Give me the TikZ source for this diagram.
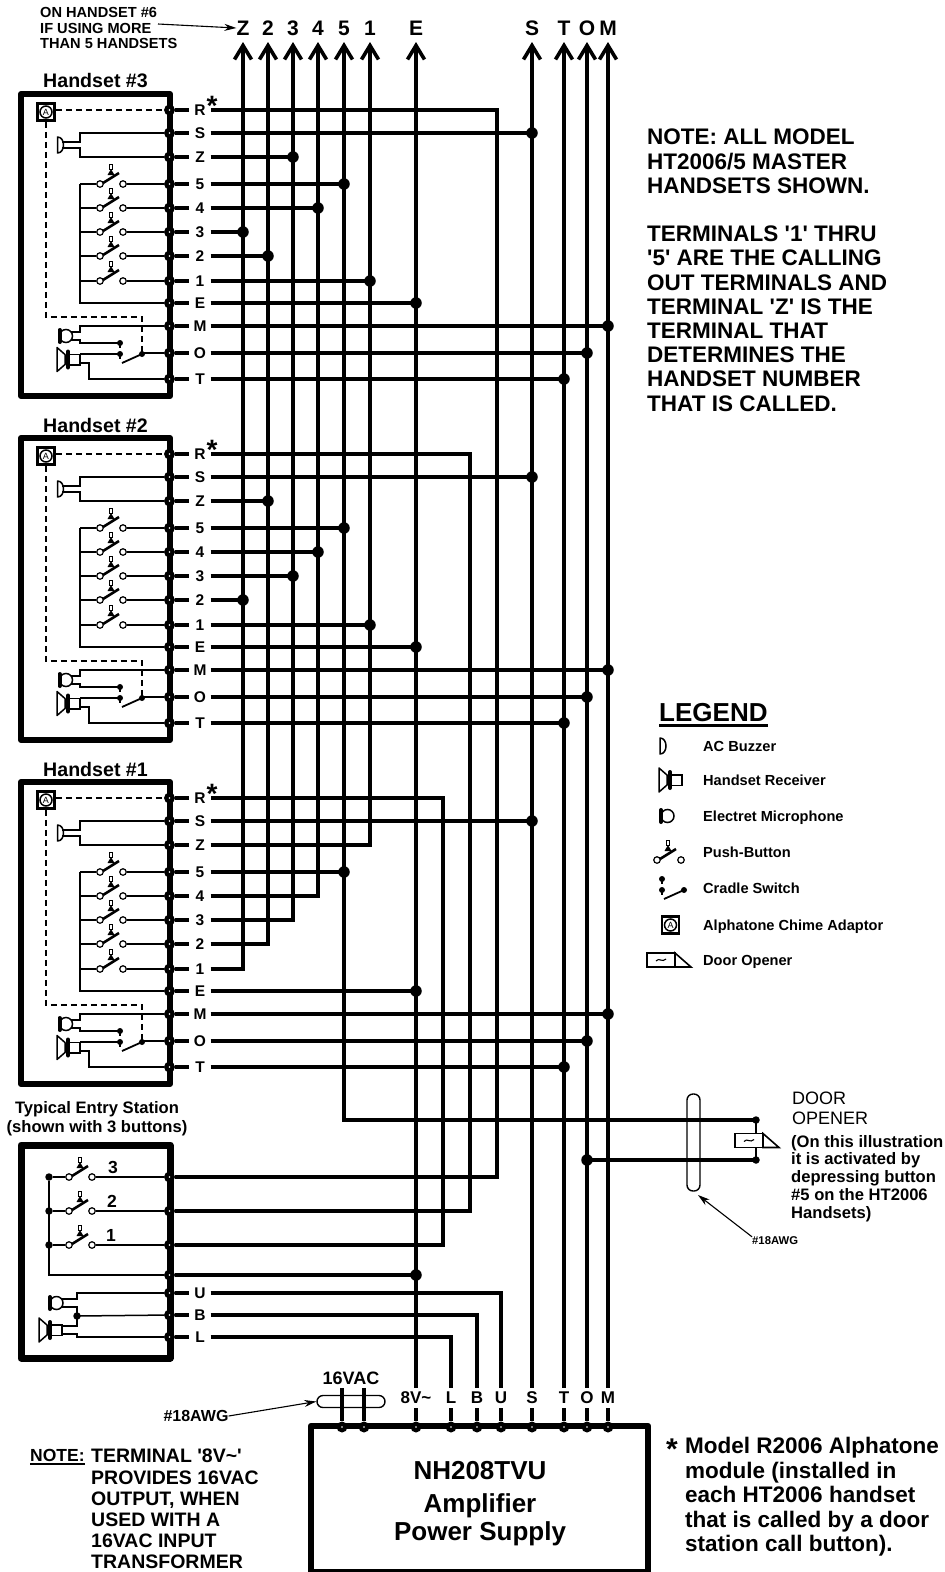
\documentclass[tikz,border=0pt]{standalone}
\usepackage{fontspec}
\setmainfont{Liberation Sans}
\usetikzlibrary{arrows.meta}

\newcommand{\boldat}[2]{\fontsize{#1}{#2}\selectfont\bfseries}

\tikzstyle{wire} = [draw, line width=3.6pt, -]
\tikzstyle{bus} = [draw, line width=3.6pt, -{Straight Barb[length=14pt,width=17pt]}]
\tikzstyle{thinwire} = [draw, line width=1.5pt, -]
\tikzstyle{chimewire} = [draw, line width=1.7pt, dash pattern=on 6pt off 4pt]
\tikzstyle{casing} = [draw, line width=6pt, line join=round]
\tikzstyle{joint} = [circle,fill=black,minimum size=11.5pt,inner sep=0pt]
\tikzstyle{smalljoint} = [circle,fill=black,minimum size=7.5pt,inner sep=0pt]
\tikzstyle{terminal} = [circle,fill=black,minimum size=11pt,inner sep=0pt,path picture={\fill[white] (path picture bounding box.center) circle (0.8pt);}]
\tikzstyle{contact} = [circle,draw,fill=white,line width=1.2pt,minimum size=6.5pt,inner sep=0pt]
\tikzstyle{chimebox} = [draw,line width=2.6pt,minimum size=17pt,inner sep=0pt,font=\fontsize{9}{9}\selectfont,path picture={\draw[line width=1.5pt] (path picture bounding box.center) circle (6pt);}]
\tikzstyle{toplabel} = [inner sep=0pt,font=\boldat{21}{21}]
\tikzstyle{rowlabel} = [inner sep=0pt,minimum width=21pt,font=\boldat{15.5}{15.5}]
\tikzstyle{baselabel} = [inner sep=0pt,minimum height=20pt,font=\boldat{17}{17}]
\tikzstyle{legendlabel} = [inner sep=0pt,anchor=base west,font=\boldat{14.6}{14.6}]
\tikzstyle{title} = [inner sep=0pt,font=\boldat{19.6}{19.6}]
\tikzstyle{star} = [inner sep=0pt,font=\boldat{28}{28}]
\tikzstyle{tie} = [draw,line width=1.4pt,rounded corners=6pt,inner sep=0pt]
\tikzstyle{leader} = [draw,line width=1.1pt,-{Stealth[length=12pt,width=7pt]}]
\tikzstyle{prose} = [inner sep=0pt,anchor=north west,align=left]

\tikzset{
  plunger/.pic={
    \draw[line width=2.6pt] (3,-1) -- (19,-11);
    \fill (7.5,-9) -- (11,-15) -- (14.5,-9) -- cycle;
    \draw[line width=0.9pt] (9.5,-15) rectangle (12.5,-20);
  },
  buzzer/.pic={
    \draw[line width=1.5pt,line join=round] (0,-8) .. controls (8,-8) and (8,8) .. (0,8) -- cycle;
  },
  mouthpiece/.pic={
    \draw[line width=1.5pt,fill=white] (6.5,0) circle (6.5pt);
    \draw[line width=4pt,line cap=round] (0,-6) -- (0,6);
  },
  earpiece/.pic={
    \draw[line width=1.5pt,line join=round] (-11,-12) -- (-3,-5) -- (-3,5) -- (-11,12) -- cycle;
    \draw[line width=4pt,line cap=round] (0,-8) -- (0,8);
    \draw[line width=1.5pt] (1,-5) rectangle (12,5.5);
  },
  cradle/.pic={
    \fill (0,0) circle (3pt);
    \fill (0,11) circle (3pt);
    \draw[line width=1.5pt] (0,0) -- (0,5);
    \draw[line width=1.5pt] (0,11) -- (0,16);
    \draw[line width=1.8pt] (2,20) -- (22,11);
    \fill (22,11) circle (3pt);
  },
  opener/.pic={
    \draw[line width=1.6pt,fill=white] (0,-7) rectangle (28,7);
    \draw[line width=1.6pt,line join=miter,fill=white] (28,-7) -- (44,7) -- (28,7) -- cycle;
    \draw[line width=1.1pt] (9,1) .. controls (12,-3) and (15,3) .. (19,-1);
  },
}

\begin{document}
\begin{tikzpicture}[x=1pt,y=-1pt]
       \useasboundingbox (0,0) rectangle (945,1572);

       % buses along the top
       \foreach \name/\xpos in {Z/243, 2/268, 3/293, 4/318, 5/344, 1/370, E/416, S/532, T/564, O/587, M/608} {
           \node[toplabel] (t\name) at (\xpos,28) {\name};
           \coordinate (b\name) at (\xpos,42);
       }
       \node[prose,font=\boldat{14.6}{15.7}] (more) at (40,7) {ON HANDSET \#6\\IF USING MORE\\THAN 5 HANDSETS};
       \coordinate (moreend) at (158,24);
       \path[leader] (moreend) -- (tZ.west);

       % handsets
       \foreach \hs/\off in {3/0, 2/344, 1/688} {
         \begin{scope}[yshift=-\off pt]
           \node[title] (title\hs) at (95.5,81) {Handset \#\hs};
           \path[casing] (21,94) rectangle (170,396);
           \foreach \row/\ypos in {R/110, S/133, Z/157, 5/184, 4/208, 3/232, 2/256, 1/281, E/303, M/326, O/353, T/379} {
               \node[terminal] (h\hs\row) at (169.5,\ypos) {};
               \node[rowlabel] (l\hs\row) at (200,\ypos) {\row};
               \path[wire] (h\hs\row) -- (l\hs\row.west);
           }
           \node[star] (star\hs) at (212,106) {*};

           % chime adaptor
           \node[chimebox] (c\hs) at (46,112) {A};
           \coordinate (cm\hs) at (142,317);
           \coordinate (cs\hs) at (142,353);
           \path[chimewire] (c\hs.east |- h\hs R) -- (h\hs R);
           \path[chimewire] (c\hs.south) |- (cm\hs) -- (cs\hs);

           % buzzer
           \coordinate (r\hs) at (80,184);
           \coordinate (bzt\hs) at (62,142);
           \coordinate (bzb\hs) at (62,148);
           \pic at (57.5,145) {buzzer};
           \path[thinwire] (h\hs S) -- (h\hs S -| r\hs) -- (r\hs |- bzt\hs) -- (bzt\hs);
           \path[thinwire] (h\hs Z) -- (h\hs Z -| r\hs) -- (r\hs |- bzb\hs) -- (bzb\hs);

           % call buttons
           \path[thinwire] (r\hs) |- (h\hs E);
           \foreach \row/\ypos in {5/184, 4/208, 3/232, 2/256, 1/281} {
               \node[contact] (p\hs\row-a) at (100,\ypos) {};
               \node[contact] (p\hs\row-b) at (123,\ypos) {};
               \pic at (p\hs\row-a) {plunger};
               \path[thinwire] (p\hs\row-a) -- (p\hs\row-a -| r\hs);
               \path[thinwire] (p\hs\row-b) -- (h\hs\row);
           }

           % microphone, receiver, cradle switch
           \coordinate (mt\hs) at (71,332);
           \coordinate (mb\hs) at (71,340);
           \coordinate (et\hs) at (80,354);
           \coordinate (eb\hs) at (80,363);
           \coordinate (tail\hs) at (89,379);
           \coordinate (cu\hs) at (120,343);
           \coordinate (cl\hs) at (120,354);
           \pic at (59.5,336) {mouthpiece};
           \pic at (68,359.5) {earpiece};
           \pic at (cu\hs) {cradle};
           \path[thinwire] (h\hs M) -- (h\hs M -| r\hs) -- (r\hs |- mt\hs) -- (mt\hs);
           \path[thinwire] (mb\hs) -- (mb\hs -| r\hs) -- (r\hs |- cu\hs) -- (cu\hs);
           \path[thinwire] (et\hs) -- (cl\hs);
           \path[thinwire] (eb\hs) -| (tail\hs) -- (h\hs T);
           \path[thinwire] (cs\hs) -- (h\hs O);
         \end{scope}
       }

       % amplifier
       \path[casing,line width=6.5pt] (311,1426) rectangle (648,1572);
       \node[inner sep=0pt,font=\boldat{26}{26}] (amp) at (480,1471) {NH208TVU};
       \node[inner sep=0pt,font=\boldat{26}{26}] (ampb) at (480,1506) {Amplifier};
       \node[inner sep=0pt,font=\boldat{26}{26}] (ampc) at (480,1534) {Power Supply};
       \foreach \name/\xpos/\txt in {E/416/8V\textasciitilde, L/451/L, B/477/B, U/501/U, S/532/S, T/564/T, O/587/O, M/608/M} {
           \node[baselabel] (bl\name) at (\xpos,1398) {\txt};
           \node[terminal] (pt\name) at (\xpos,1427) {};
           \path[wire] (bl\name.south) -- (pt\name);
       }
       \foreach \name in {E, S, T, O, M} {
           \path[bus] (bl\name.north) -- (b\name);
       }
       % transformer input
       \foreach \name/\xpos in {a/342, b/364} {
           \coordinate (vac\name) at (\xpos,1388);
           \node[terminal] (pv\name) at (\xpos,1427) {};
       }
       \node[tie,minimum width=68pt,minimum height=12pt] (tiea) at (351,1401.5) {};
       \foreach \name in {a, b} {
           \path[wire] (vac\name) -- (pv\name);
       }
       \node[inner sep=0pt,font=\boldat{18}{18}] (vaclabel) at (351,1378) {16VAC};
       \node[inner sep=0pt,font=\boldat{16}{16}] (awga) at (196,1416) {\#18AWG};
       \path[leader] (awga.east) -- (tiea.west);

       % entry station
       \node[inner sep=0pt,font=\boldat{16.6}{19},align=center] (entry) at (97,1119) {Typical Entry Station\\(shown with 3 buttons)};
       \path[casing,line width=7pt] (21,1145) rectangle (170,1358);
       \foreach \row/\ypos in {3/1177, 2/1211, 1/1245, E/1275, U/1293, B/1315, L/1337} {
           \node[terminal] (en\row) at (169.5,\ypos) {};
       }
       \foreach \row/\ypos in {U/1293, B/1315, L/1337} {
           \node[rowlabel] (el\row) at (200,\ypos) {\row};
           \path[wire] (en\row) -- (el\row.west);
           \path[wire] (el\row.east) -| (bl\row.north);
       }
       \foreach \row/\rise/\ypos/\txt in {3/497/1177/113, 2/470/1211/112, 1/443/1245/111} {
           \coordinate (rise\row) at (\rise,\ypos);
           \path[wire] (en\row) -- (rise\row) |- (l\row R.east);
           \node[smalljoint] (s\row) at (49,\ypos) {};
           \node[contact] (q\row-a) at (69,\ypos) {};
           \node[contact] (q\row-b) at (92,\ypos) {};
           \pic at (q\row-a) {plunger};
           \path[thinwire] (s\row) -- (q\row-a);
           \path[thinwire] (q\row-b) -- (en\row);
           \node[inner sep=0pt,font=\boldat{17.5}{17.5}] (n\row) at (\txt,\ypos-10) {\row};
       }
       \path[thinwire] (s3) |- (enE);
       \path[wire] (enE) -- (enE -| bE);
       \node[joint] (jenE) at (enE -| bE) {};
       \coordinate (ej) at (77,1316);
       \coordinate (emt) at (62,1299);
       \coordinate (emb) at (62,1307);
       \coordinate (ert) at (62,1326);
       \coordinate (erb) at (62,1334);
       \pic at (50,1303) {mouthpiece};
       \pic at (50,1330) {earpiece};
       \path[thinwire] (emt) -- (emt -| ej) -- (ej |- enU) -- (enU);
       \path[thinwire] (emb) -- (emb -| ej) -- (ej);
       \path[thinwire] (ert) -- (ert -| ej) -- (ej);
       \path[thinwire] (erb) -- (erb -| ej) -- (ej |- enL) -- (enL);
       \path[thinwire] (ej) -- (enB);
       \node[smalljoint] (jej) at (ej) {};

       % wires that end on a bus
       \foreach \src/\dst in {1Z/1, 14/4, 13/3, 12/2, 11/Z} {
           \path[bus] (l\src.east) -| (b\dst);
       }
       \foreach \src/\dst in {3S/S, 3Z/3, 35/5, 34/4, 33/Z, 32/2, 31/1, 3E/E, 3M/M, 3O/O, 3T/T, 2S/S, 2Z/2, 25/5, 24/4, 23/3, 22/Z, 21/1, 2E/E, 2M/M, 2O/O, 2T/T, 1S/S, 15/5, 1E/E, 1M/M, 1O/O, 1T/T} {
           \path[wire] (l\src.east) -- (l\src -| b\dst);
           \node[joint] (j\src) at (l\src -| b\dst) {};
       }

       % door opener
       \coordinate (dooru) at (756,1120);
       \coordinate (doorl) at (756,1160);
       \node[tie,minimum width=13pt,minimum height=97pt] (tieb) at (693.5,1142.5) {};
       \path[bus] (dooru) -| (b5);
       \path[wire] (doorl -| bO) -- (doorl);
       \node[joint] (jdoor) at (doorl -| bO) {};
       \path[thinwire] (dooru) -- (doorl);
       \node[smalljoint] (jdu) at (dooru) {};
       \node[smalljoint] (jdl) at (doorl) {};
       \pic at (735,1140.5) {opener};
       \node[prose,font=\fontsize{18}{20}\selectfont] (doorname) at (792,1092) {DOOR\\OPENER};
       \node[prose,font=\boldat{16.6}{17.7}] (doornote) at (791,1135) {(On this illustration\\it is activated by\\depressing button\\\#5 on the HT2006\\Handsets)};
       \node[inner sep=0pt,font=\boldat{11.3}{11.3},anchor=west] (awgb) at (752,1241) {\#18AWG};
       \coordinate (awgtip) at (698,1195);
       \path[leader] (awgb.north west) -- (awgtip);

       % notes
       \node[prose,font=\boldat{22.5}{24.2}] (note) at (647,129) {NOTE: ALL MODEL\\HT2006/5 MASTER\\HANDSETS SHOWN.\\[24.2pt]TERMINALS \textquotesingle1\textquotesingle{} THRU\\\textquotesingle5\textquotesingle{} ARE THE CALLING\\OUT TERMINALS AND\\TERMINAL \textquotesingle Z\textquotesingle{} IS THE\\TERMINAL THAT\\DETERMINES THE\\HANDSET NUMBER\\THAT IS CALLED.};
       \node[inner sep=0pt,anchor=west,font=\boldat{17.5}{17.5}] (notea) at (30,1455) {NOTE:};
       \path[draw,line width=1.3pt] ([yshift=-2.5pt]notea.south west) -- ([yshift=-2.5pt]notea.south east);
       \node[prose,font=\boldat{19.5}{21.2}] (noteb) at (91,1449) {TERMINAL \textquotesingle8V\textasciitilde\textquotesingle\\PROVIDES 16VAC\\OUTPUT, WHEN\\USED WITH A\\16VAC INPUT\\TRANSFORMER};
       \node[inner sep=0pt,font=\boldat{30}{30}] (starc) at (672,1449) {*};
       \node[prose,font=\boldat{22.5}{24.6}] (notec) at (685,1437) {Model R2006 Alphatone\\module (installed in\\each HT2006 handset\\that is called by a door\\station call button).};

       % legend
       \node[inner sep=0pt,anchor=west,font=\boldat{26}{26}] (lgnd) at (659,713) {LEGEND};
       \path[draw,line width=2.4pt] ([yshift=-3pt]lgnd.south west) -- ([yshift=-3pt]lgnd.south east);
       \foreach \name/\ypos/\txt in {a/751/AC Buzzer, b/785/Handset Receiver, c/821/Electret Microphone, d/857/Push-Button, e/893/Cradle Switch, f/930/Alphatone Chime Adaptor, g/965/Door Opener} {
           \node[legendlabel] (lg\name) at (703,\ypos) {\txt};
       }
       \pic at (660,746) {buzzer};
       \pic at (670,780) {earpiece};
       \pic at (661,816) {mouthpiece};
       \node[contact] (lpa) at (657,860) {};
       \node[contact] (lpb) at (681,860) {};
       \pic at (lpa) {plunger};
       \pic at (662,879) {cradle};
       \node[chimebox] (lca) at (670.5,925) {A};
       \pic at (647,960) {opener};
\end{tikzpicture}
\end{document}
